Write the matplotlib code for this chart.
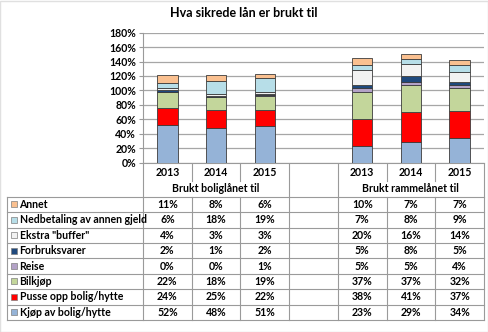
import numpy as np
import matplotlib.pyplot as plt

plt.rcParams['font.family'] = ['Lato', 'DejaVu Sans']
plt.rcParams['font.weight'] = 'bold'

# -------------------------
# data
# -------------------------
years = ["2013", "2014", "2015", "2013", "2014", "2015"]
groups = ["Brukt boliglånet til", "Brukt rammelånet til"]

# bottom to top in the stack
series = [
    "Kjøp av bolig/hytte",
    "Pusse opp bolig/hytte",
    "Bilkjøp",
    "Reise",
    "Forbruksvarer",
    "Ekstra \"buffer\"",
    "Nedbetaling av annen gjeld",
    "Annet",
]
kjop = [52, 48, 51, 23, 29, 34]
pusse = [24, 25, 22, 38, 41, 37]
bilkjop = [22, 18, 19, 37, 37, 32]
reise = [0, 0, 1, 5, 5, 4]
forbruk = [2, 1, 2, 5, 8, 5]
buffer_ = [4, 3, 3, 20, 16, 14]
nedbet = [6, 18, 19, 7, 8, 9]
annet = [11, 8, 6, 10, 7, 7]
values = [kjop, pusse, bilkjop, reise, forbruk, buffer_, nedbet, annet]

colors = ["#95B3D7", "#FF0000", "#C3D69B", "#B3A2C7",
          "#1F497D", "#F2F2F2", "#B7DEE8", "#FAC090"]

yticks = [0, 20, 40, 60, 80, 100, 120, 140, 160, 180]

# -------------------------
# layout (pixels)
# -------------------------
W, H = 488, 332
plot_l, plot_r = 143, 484
plot_t, plot_b = 32.7, 162.5
ncols = 7
col_w = (plot_r - plot_l) / ncols
xpos = [0, 1, 2, 4, 5, 6]
grid_c = "#a6a6a6"
line_c = "#9a9a9a"
fs = 7.6

fig = plt.figure(figsize=(W / 100, H / 100), dpi=100)
ax = fig.add_axes([plot_l / W, 1 - plot_b / H,
                   (plot_r - plot_l) / W, (plot_b - plot_t) / H])

bottom = np.zeros(len(xpos))
for vals, c in zip(values, colors):
    ax.bar(xpos, vals, width=0.42, bottom=bottom, color=c,
           edgecolor="#3c3c3c", linewidth=0.6, zorder=3)
    bottom += np.array(vals)

ax.set_xlim(-0.5, ncols - 0.5)
ax.set_ylim(0, 180)
ax.set_yticks(yticks)
ax.set_yticklabels([f"{t}%" for t in yticks], fontsize=fs, fontweight="bold")
ax.set_xticks([])
ax.yaxis.grid(True, color=grid_c, linewidth=0.9, zorder=0)
for s in ["top", "right"]:
    ax.spines[s].set_visible(False)
ax.spines["left"].set_color(line_c)
ax.spines["bottom"].set_color(line_c)
ax.tick_params(axis="y", length=3, color=line_c, pad=2)

fig.text(0.5, 1 - 13 / H, "Hva sikrede lån er brukt til", ha="center",
         va="center", fontsize=9, fontweight="bold")

# -------------------------
# data table below the chart
# -------------------------
tab = fig.add_axes([0, 0, 1, 1], zorder=-1)
tab.set_xlim(0, W)
tab.set_ylim(H, 0)
tab.axis("off")

row_t, row_b = 196.7, 320
nrows = len(series)
row_h = (row_b - row_t) / nrows
tab_l = 7
col_edges = [plot_l + i * col_w for i in range(ncols + 1)]
col_mid = [plot_l + (p + 0.5) * col_w for p in xpos]

# horizontal lines
for i in range(nrows + 1):
    y = row_t + i * row_h
    tab.plot([tab_l, plot_r], [y, y], color=line_c, lw=0.8)
# vertical lines
tab.plot([tab_l, tab_l], [row_t, row_b], color=line_c, lw=0.8)
for i, x in enumerate(col_edges):
    if i in (0, 3, 4, 7):
        tab.plot([x, x], [plot_b, row_b], color=line_c, lw=0.8)
    else:
        tab.plot([x, x], [plot_b, 180.5], color=line_c, lw=0.8)
        tab.plot([x, x], [row_t, row_b], color=line_c, lw=0.8)

for x, yr in zip(col_mid, years):
    tab.text(x, 172, yr, ha="center", va="center", fontsize=fs)
for g, gi in enumerate(groups):
    cx = (col_edges[g * 4] + col_edges[g * 4 + 3]) / 2
    tab.text(cx, 188.5, gi, ha="center", va="center", fontsize=fs)

for r in range(nrows):
    k = nrows - 1 - r
    yc = row_t + (r + 0.5) * row_h
    tab.add_patch(plt.Rectangle((10.5, yc - 3), 6, 6, facecolor=colors[k],
                                edgecolor="#7f7f7f", lw=0.5))
    tab.text(19.5, yc, series[k], ha="left", va="center", fontsize=fs)
    for x, v in zip(col_mid, values[k]):
        tab.text(x, yc, f"{v}%", ha="center", va="center", fontsize=fs)

# light frame around the picture
fig.patches.append(plt.Rectangle((0.001, 0.001), 0.998, 0.997,
                                 transform=fig.transFigure, fill=False,
                                 edgecolor="#e0e0e0", lw=1))

fig.savefig("out.png", dpi=100)
